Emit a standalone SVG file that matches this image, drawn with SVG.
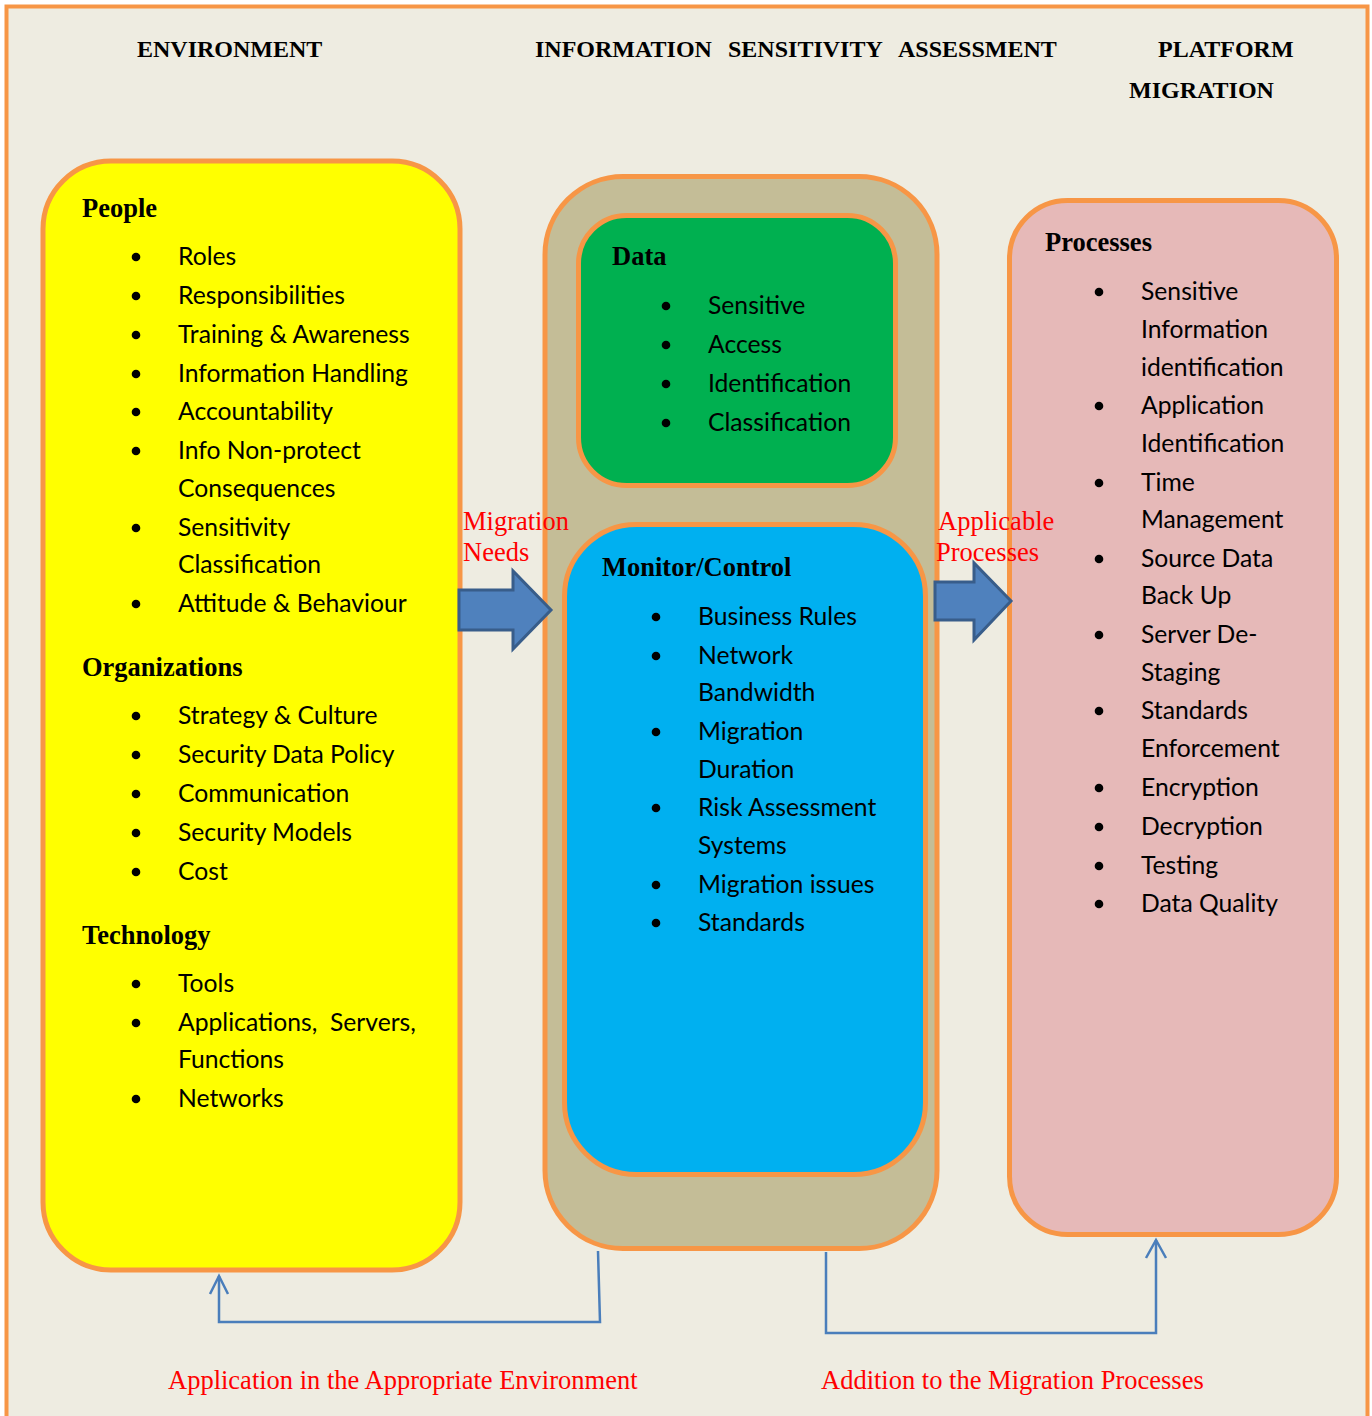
<svg xmlns="http://www.w3.org/2000/svg" width="1372" height="1416" viewBox="0 0 1372 1416">
<defs>
<style>
.hdr{font-family:"Liberation Serif","Times New Roman",serif;font-weight:bold;font-size:24px;fill:#000}
.sec{font-family:"Liberation Serif","Times New Roman",serif;font-weight:bold;font-size:26.5px;fill:#000}
.it{font-family:Lato,"Open Sans",sans-serif;font-size:24.7px;fill:#000}
.red{font-family:"Liberation Serif","Times New Roman",serif;font-size:26.5px;fill:#FF0000}
.box{stroke:#F79646;stroke-width:5}
.bul{fill:#000}
.blk{fill:#4F81BD;stroke:#385D8A;stroke-width:3;stroke-linejoin:miter}
.con{fill:none;stroke:#4A7EBB;stroke-width:2.5}
</style>
</defs>
<rect x="0" y="0" width="1372" height="1416" fill="#FFFFFF"/>
<rect x="6.5" y="6.5" width="1361" height="1430" fill="#EEECE1" stroke="#F79646" stroke-width="4"/>

<g id="headers">
<text class="hdr" x="137" y="57">ENVIRONMENT</text>
<text class="hdr" x="535" y="57">INFORMATION</text>
<text class="hdr" x="728" y="57">SENSITIVITY</text>
<text class="hdr" x="898" y="57">ASSESSMENT</text>
<text class="hdr" x="1158" y="57">PLATFORM</text>
<text class="hdr" x="1129" y="98">MIGRATION</text>
</g>

<g id="environment">
<rect class="box" x="43" y="161" width="417" height="1109" rx="68" ry="68" fill="#FFFF00"/>
<text class="sec" x="82" y="217">People</text>
<circle class="bul" cx="136" cy="257" r="4.3"/><text class="it" x="178" y="265">Roles</text>
<circle class="bul" cx="136" cy="296" r="4.3"/><text class="it" x="178" y="304">Responsibilities</text>
<circle class="bul" cx="136" cy="335" r="4.3"/><text class="it" x="178" y="343">Training &amp; Awareness</text>
<circle class="bul" cx="136" cy="374" r="4.3"/><text class="it" x="178" y="382">Information Handling</text>
<circle class="bul" cx="136" cy="412" r="4.3"/><text class="it" x="178" y="420">Accountability</text>
<circle class="bul" cx="136" cy="451" r="4.3"/><text class="it" x="178" y="459">Info Non-protect</text>
<text class="it" x="178" y="497">Consequences</text>
<circle class="bul" cx="136" cy="528" r="4.3"/><text class="it" x="178" y="536">Sensitivity</text>
<text class="it" x="178" y="573">Classification</text>
<circle class="bul" cx="136" cy="604" r="4.3"/><text class="it" x="178" y="612">Attitude &amp; Behaviour</text>
<text class="sec" x="82" y="676">Organizations</text>
<circle class="bul" cx="136" cy="716" r="4.3"/><text class="it" x="178" y="724">Strategy &amp; Culture</text>
<circle class="bul" cx="136" cy="755" r="4.3"/><text class="it" x="178" y="763">Security Data Policy</text>
<circle class="bul" cx="136" cy="794" r="4.3"/><text class="it" x="178" y="802">Communication</text>
<circle class="bul" cx="136" cy="833" r="4.3"/><text class="it" x="178" y="841">Security Models</text>
<circle class="bul" cx="136" cy="872" r="4.3"/><text class="it" x="178" y="880">Cost</text>
<text class="sec" x="82" y="944">Technology</text>
<circle class="bul" cx="136" cy="984" r="4.3"/><text class="it" x="178" y="992">Tools</text>
<circle class="bul" cx="136" cy="1023" r="4.3"/><text class="it" x="178" y="1031" xml:space="preserve">Applications,  Servers,</text>
<text class="it" x="178" y="1068">Functions</text>
<circle class="bul" cx="136" cy="1099" r="4.3"/><text class="it" x="178" y="1107">Networks</text>
</g>

<g id="assessment">
<rect class="box" x="545" y="176.5" width="392" height="1072" rx="78" ry="78" fill="#C4BD97"/>
</g>

<g id="data">
<rect class="box" x="578.5" y="215.5" width="317" height="270" rx="48" ry="48" fill="#00B050"/>
<text class="sec" x="612" y="265">Data</text>
<circle class="bul" cx="666" cy="306" r="4.3"/><text class="it" x="708" y="314">Sensitive</text>
<circle class="bul" cx="666" cy="345" r="4.3"/><text class="it" x="708" y="353">Access</text>
<circle class="bul" cx="666" cy="384" r="4.3"/><text class="it" x="708" y="392">Identification</text>
<circle class="bul" cx="666" cy="423" r="4.3"/><text class="it" x="708" y="431">Classification</text>
</g>

<g id="monitor">
<rect class="box" x="564.5" y="524.5" width="361" height="650" rx="72" ry="72" fill="#00B0F0"/>
<text class="sec" x="602" y="576">Monitor/Control</text>
<circle class="bul" cx="656" cy="617" r="4.3"/><text class="it" x="698" y="625">Business Rules</text>
<circle class="bul" cx="656" cy="656" r="4.3"/><text class="it" x="698" y="664">Network</text>
<text class="it" x="698" y="701">Bandwidth</text>
<circle class="bul" cx="656" cy="732" r="4.3"/><text class="it" x="698" y="740">Migration</text>
<text class="it" x="698" y="778">Duration</text>
<circle class="bul" cx="656" cy="808" r="4.3"/><text class="it" x="698" y="816">Risk Assessment</text>
<text class="it" x="698" y="854">Systems</text>
<circle class="bul" cx="656" cy="885" r="4.3"/><text class="it" x="698" y="893">Migration issues</text>
<circle class="bul" cx="656" cy="923" r="4.3"/><text class="it" x="698" y="931">Standards</text>
</g>

<g id="processes">
<rect class="box" x="1009.5" y="200.5" width="327" height="1034" rx="58" ry="58" fill="#E6B9B8"/>
<text class="sec" x="1045" y="251">Processes</text>
<circle class="bul" cx="1099" cy="292" r="4.3"/><text class="it" x="1141" y="300">Sensitive</text>
<text class="it" x="1141" y="338">Information</text>
<text class="it" x="1141" y="376">identification</text>
<circle class="bul" cx="1099" cy="406" r="4.3"/><text class="it" x="1141" y="414">Application</text>
<text class="it" x="1141" y="452">Identification</text>
<circle class="bul" cx="1099" cy="483" r="4.3"/><text class="it" x="1141" y="491">Time</text>
<text class="it" x="1141" y="528">Management</text>
<circle class="bul" cx="1099" cy="559" r="4.3"/><text class="it" x="1141" y="567">Source Data</text>
<text class="it" x="1141" y="604">Back Up</text>
<circle class="bul" cx="1099" cy="635" r="4.3"/><text class="it" x="1141" y="643">Server De-</text>
<text class="it" x="1141" y="681">Staging</text>
<circle class="bul" cx="1099" cy="711" r="4.3"/><text class="it" x="1141" y="719">Standards</text>
<text class="it" x="1141" y="757">Enforcement</text>
<circle class="bul" cx="1099" cy="788" r="4.3"/><text class="it" x="1141" y="796">Encryption</text>
<circle class="bul" cx="1099" cy="827" r="4.3"/><text class="it" x="1141" y="835">Decryption</text>
<circle class="bul" cx="1099" cy="866" r="4.3"/><text class="it" x="1141" y="874">Testing</text>
<circle class="bul" cx="1099" cy="904" r="4.3"/><text class="it" x="1141" y="912">Data Quality</text>
</g>

<g id="connectors">
<polygon class="blk" points="459,590 513,590 513,571 551,610 513,649 513,630 459,630"/>
<polygon class="blk" points="935,582 974,582 974,563 1011,601 974,640 974,620 935,620"/>
<polyline class="con" points="598,1251 600,1322 219,1322 219,1276"/>
<polyline class="con" points="210,1294 219,1276 228,1294"/>
<polyline class="con" points="826,1252 826,1333 1156,1333 1156,1240"/>
<polyline class="con" points="1146,1258 1156,1240 1166,1258"/>
</g>

<g id="labels">
<text class="red" x="463" y="530">Migration</text>
<text class="red" x="463" y="561">Needs</text>
<text class="red" x="938" y="530">Applicable</text>
<text class="red" x="936" y="561">Processes</text>
<text class="red" x="168" y="1389">Application in the Appropriate Environment</text>
<text class="red" x="821" y="1389">Addition to the Migration Processes</text>
</g>
</svg>
